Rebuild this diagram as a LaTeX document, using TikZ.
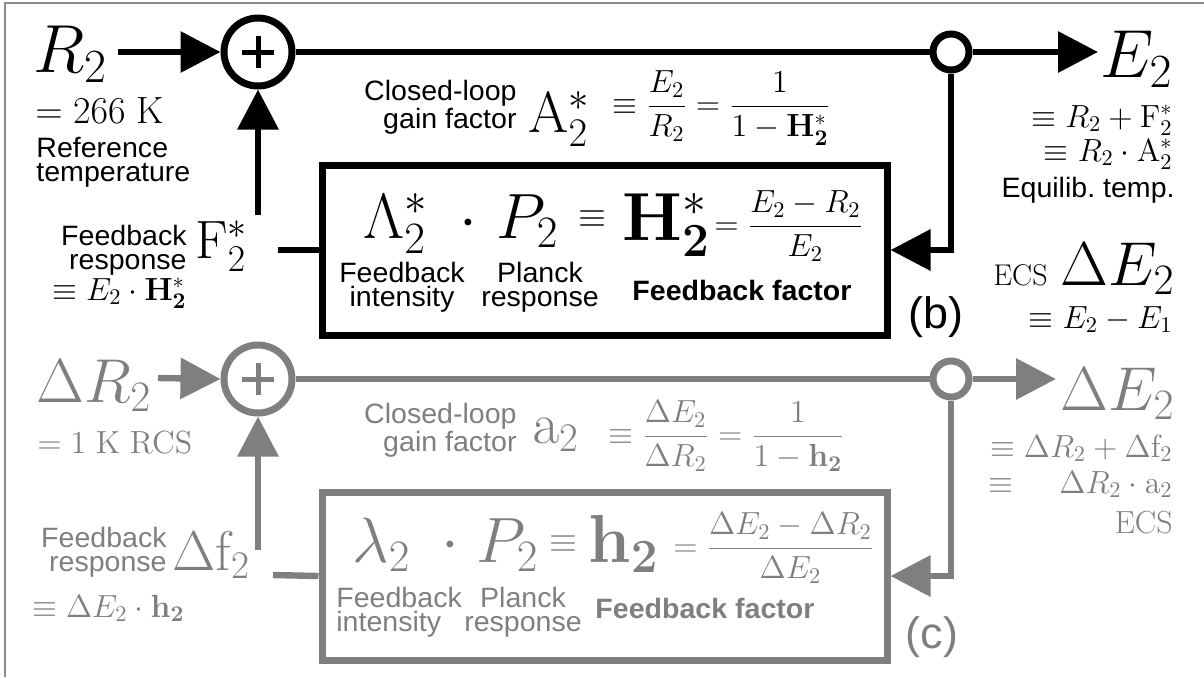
\documentclass[tikz,border=0pt]{standalone}
\usepackage{fix-cm}
\usepackage{amsmath}
\usepackage[no-math]{fontspec}
\setsansfont{Liberation Sans}[FakeStretch=1.02]
\usepackage{tikz}
\usetikzlibrary{positioning, arrows.meta}
\definecolor{fbgray}{HTML}{7F7F7F}
\definecolor{framegray}{HTML}{8A8A8A}

\begin{document}
\begin{tikzpicture}[
  x=0.5pt, y=-0.5pt,
  ln/.style={line width=3.2pt},
  arr/.style={line width=3.2pt, -{Triangle[length=20pt,width=20pt]}},
  sumnode/.style={circle, draw, line width=3.5pt, minimum size=34pt, inner sep=0pt},
  picknode/.style={circle, draw, fill=white, line width=3.5pt, minimum size=18pt, inner sep=0pt},
  fbbox/.style={draw, line width=3.5pt, minimum width=282.5pt, minimum height=85pt, inner sep=0pt},
  bigsym/.style={font=\fontsize{34}{34}\selectfont, inner sep=0pt},
  midsym/.style={font=\fontsize{29}{29}\selectfont, inner sep=0pt},
  boxsym/.style={font=\fontsize{32}{32}\selectfont, inner sep=0pt},
  eqsym/.style={font=\fontsize{18}{18}\selectfont, inner sep=0pt},
  eqn/.style={font=\fontsize{16}{16}\selectfont, inner sep=0pt},
  lbl/.style={font=\sffamily\fontsize{14}{12}\selectfont, inner sep=0pt},
  blbl/.style={font=\sffamily\bfseries\fontsize{14}{12}\selectfont, inner sep=0pt},
  tag/.style={font=\sffamily\fontsize{22}{22}\selectfont, inner sep=0pt},
]
\useasboundingbox (0,0) rectangle (1204,677);
\draw[framegray, line width=0.8pt] (5,677) -- (5,3) -- (1204,3);

% (b) equilibrium loop
\node[bigsym, anchor=base west] (R2) at (33,72) {$R_2$};
\node[font=\fontsize{19}{19}\selectfont, inner sep=0pt, anchor=base west] (R2val) at (35,123) {$=266\;\mathrm{K}$};
\node[lbl, align=left, anchor=north west] (R2txt) at (36,137) {Reference\\temperature};
\coordinate (R2out) at (118,52);
\node[sumnode] (sumb) at (258,52) {};
\draw[line width=2.5pt] ([xshift=-8pt]sumb.center) -- ([xshift=8pt]sumb.center);
\draw[line width=2.5pt] ([yshift=-8pt]sumb.center) -- ([yshift=8pt]sumb.center);
\node[picknode] (pickb) at (951,52) {};
\coordinate (E2in) at (1098,52);
\node[bigsym, anchor=base west] (E2) at (1100,77) {$E_2$};
\node[eqn, anchor=base east] (E2sum) at (1173,127) {$\equiv R_2+\mathrm{F}^*_2$};
\node[eqn, anchor=base east] (E2prod) at (1173,161) {$\equiv R_2\cdot\mathrm{A}^*_2$};
\node[lbl, anchor=base east] (E2txt) at (1175,197) {Equilib.\ temp.};

\node[lbl, font=\sffamily\fontsize{14}{14}\selectfont, align=right, anchor=north east] (Abtxt) at (517,80) {Closed-loop\\gain factor};
\node[midsym, anchor=base west] (Ab) at (528,132) {$\mathrm{A}^*_2$};
\node[eqn, anchor=west] (Abeq) at (612,108) {$\equiv\dfrac{E_2}{R_2}=\dfrac{1}{1-\mathbf{H}^*_{\mathbf{2}}}$};

\node[fbbox] (boxb) at (604.5,250) {};
\node[boxsym, anchor=base west] (Lamb) at (363,238) {$\Lambda^*_2$};
\node[boxsym, anchor=base] (dotb) at (468,238) {$\cdot$};
\node[boxsym, anchor=base west] (Pb) at (496,238) {$P_2$};
\node[eqsym, anchor=base] (eqvb) at (592,227) {$\equiv$};
\node[bigsym, anchor=base west] (Hb) at (622,240) {$\mathbf{H}^*_{\mathbf{2}}$};
\node[eqn, anchor=west] (Hbeq) at (714,226) {$=\dfrac{E_2-R_2}{E_2}$};
\node[lbl, align=center, anchor=north] (Lambtxt) at (402,262) {Feedback\\intensity};
\node[lbl, align=center, anchor=north] (Pbtxt) at (540,262) {Planck\\response};
\node[blbl, anchor=base] (Hbtxt) at (742,300) {Feedback factor};
\node[tag, anchor=base] (tagb) at (936,328) {(b)};

\node[font=\fontsize{27}{27}\selectfont, inner sep=0pt, anchor=base west] (Fb) at (195,258) {$\mathrm{F}^*_2$};
\node[lbl, align=right, anchor=north east] (Fbtxt) at (187,225) {Feedback\\response};
\node[eqn, anchor=base east] (Fbeq) at (187,300) {$\equiv E_2\cdot\mathbf{H}^*_{\mathbf{2}}$};
\coordinate (Fbup) at (258,215);
\coordinate (Fbout) at (278,250);

\node[font=\fontsize{15}{15}\selectfont, inner sep=0pt, anchor=base east] (ecsb) at (1048,285) {ECS};
\node[font=\fontsize{31}{31}\selectfont, inner sep=0pt, anchor=base east] (dE2b) at (1175,285) {$\Delta E_2$};
\node[eqn, anchor=base east] (dE2beq) at (1173,328) {$\equiv E_2-E_1$};

\draw[arr] (R2out) -- (sumb.west);
\draw[ln] (sumb.east) -- (pickb.west);
\draw[arr] (pickb.east) -- (E2in);
\draw[arr] (pickb.south) |- (boxb.east);
\draw[ln] (Fbout) -- (boxb.west);
\draw[arr] (Fbup) -- (sumb.south);

% (c) climate sensitivity loop
\begin{scope}[fbgray]
\node[font=\fontsize{31}{31}\selectfont, inner sep=0pt, anchor=base west] (dR2) at (36,402) {$\Delta R_2$};
\node[eqn, anchor=base west] (dR2val) at (37,453) {$=1~\mathrm{K}~\mathrm{RCS}$};
\coordinate (dR2out) at (158,378);
\node[sumnode] (sumc) at (258,379) {};
\draw[line width=2.5pt] ([xshift=-8pt]sumc.center) -- ([xshift=8pt]sumc.center);
\draw[line width=2.5pt] ([yshift=-8pt]sumc.center) -- ([yshift=8pt]sumc.center);
\node[picknode] (pickc) at (951,379) {};
\coordinate (dE2in) at (1056,379);
\node[font=\fontsize{31}{31}\selectfont, inner sep=0pt, anchor=base east] (dE2c) at (1175,410) {$\Delta E_2$};
\node[eqn, anchor=base east] (dE2sum) at (1173,457) {$\equiv\Delta R_2+\Delta\mathrm{f}_2$};
\node[eqn, anchor=base east] (dE2prod) at (1173,493) {\makebox[92pt]{$\equiv$\hfill$\Delta R_2\cdot\mathrm{a}_2$}};
\node[eqn, anchor=base east] (ecsc) at (1173,533) {ECS};

\node[lbl, font=\sffamily\fontsize{14}{14}\selectfont, align=right, anchor=north east] (actxt) at (517,403) {Closed-loop\\gain factor};
\node[midsym, anchor=base west] (ac) at (532,443) {$\mathrm{a}_2$};
\node[eqn, anchor=west] (aceq) at (608,436) {$\equiv\dfrac{\Delta E_2}{\Delta R_2}=\dfrac{1}{1-\mathbf{h}_{\mathbf{2}}}$};

\node[fbbox, minimum height=84pt] (boxc) at (604.5,576) {};
\node[boxsym, anchor=base west] (lamc) at (352,562) {$\lambda_2$};
\node[boxsym, anchor=base] (dotc) at (450,560) {$\cdot$};
\node[boxsym, anchor=base west] (Pc) at (476,562) {$P_2$};
\node[eqsym, anchor=base] (eqvc) at (563,552) {$\equiv$};
\node[bigsym, anchor=base west] (hc) at (588,562) {$\mathbf{h}_{\mathbf{2}}$};
\node[eqn, anchor=west] (hceq) at (673,548) {$=\dfrac{\Delta E_2-\Delta R_2}{\Delta E_2}$};
\node[lbl, align=left, anchor=north west] (lamctxt) at (336,587) {Feedback\\intensity};
\node[lbl, align=center, anchor=north] (Pctxt) at (523,587) {Planck\\response};
\node[blbl, anchor=base] (hctxt) at (705,618) {Feedback factor};
\node[tag, anchor=base] (tagc) at (932,648) {(c)};

\node[font=\fontsize{28}{28}\selectfont, inner sep=0pt, anchor=base west] (dfc) at (172,570) {$\Delta\mathrm{f}_2$};
\node[lbl, align=right, anchor=north east] (dfctxt) at (167,527) {Feedback\\response};
\node[eqn, anchor=base east] (dfceq) at (185,617) {$\equiv\Delta E_2\cdot\mathbf{h}_{\mathbf{2}}$};
\coordinate (dfup) at (258,550);
\coordinate (dfout) at (273,575);

\draw[arr] (dR2out) -- (sumc.west);
\draw[ln] (sumc.east) -- (pickc.west);
\draw[arr] (pickc.east) -- (dE2in);
\draw[arr] (pickc.south) |- (boxc.east);
\draw[ln] (dfout) -- (boxc.west);
\draw[arr] (dfup) -- (sumc.south);
\end{scope}

\end{tikzpicture}
\end{document}
